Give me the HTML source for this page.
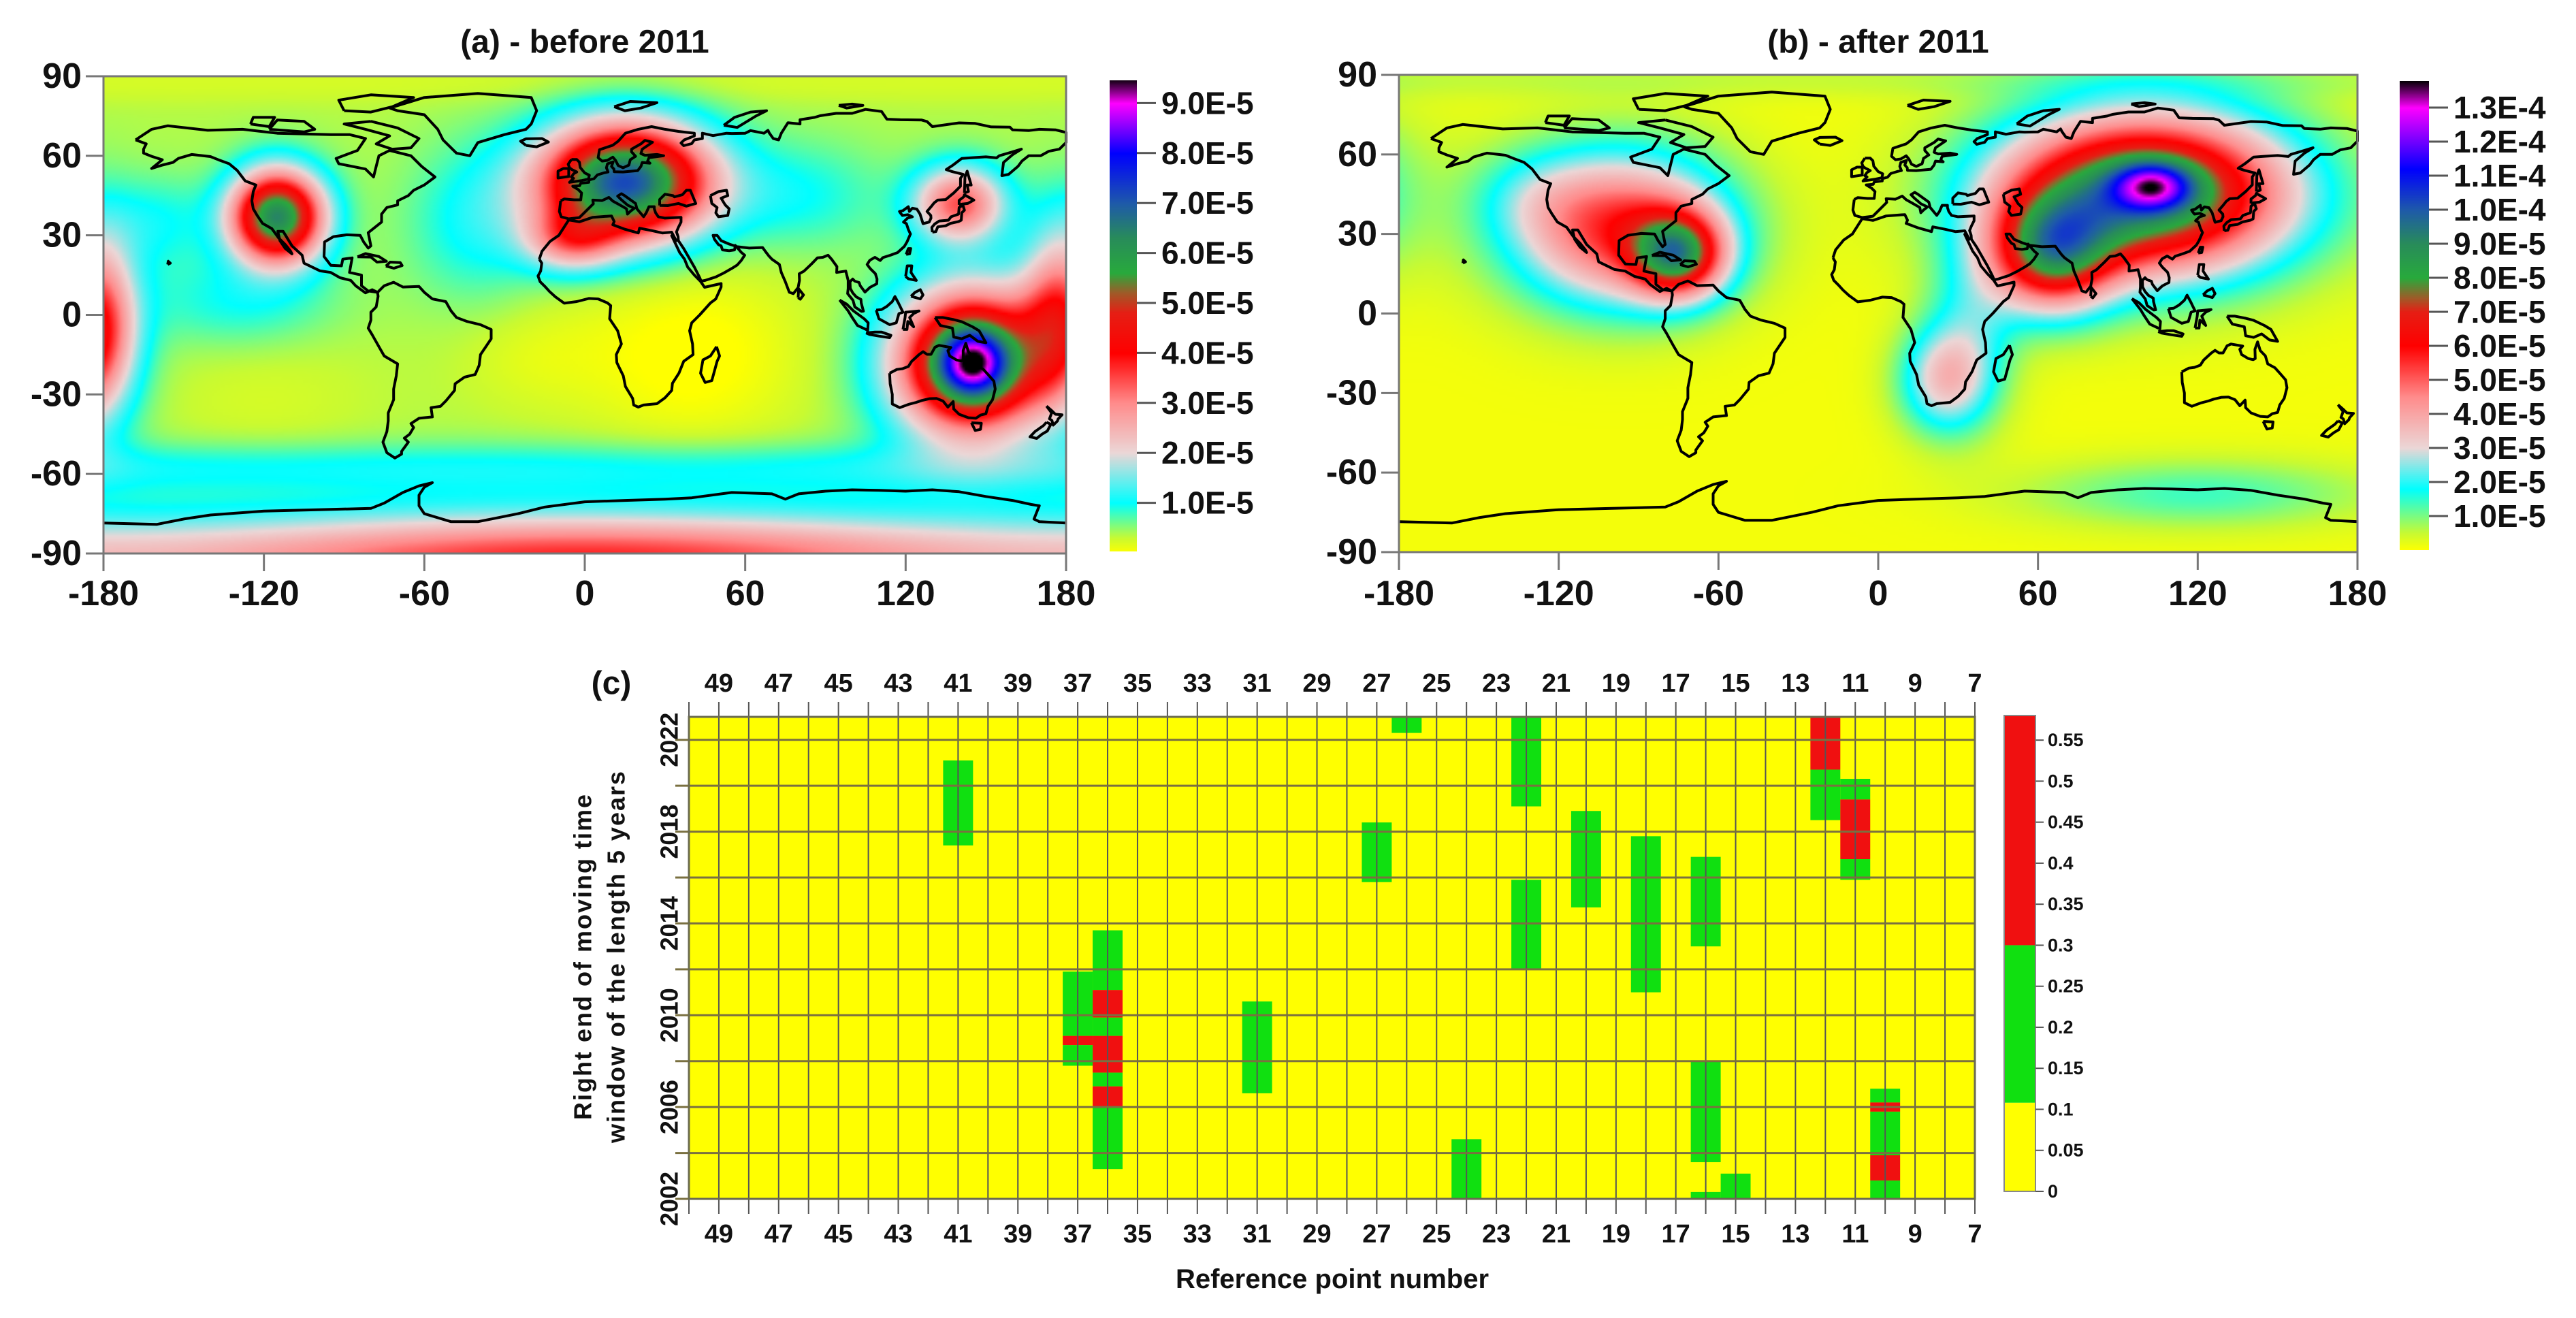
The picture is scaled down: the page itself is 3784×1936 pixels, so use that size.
<!DOCTYPE html>
<html><head><meta charset="utf-8"><style>
html,body{margin:0;padding:0;background:#fff;}
#root{position:relative;width:3784px;height:1936px;overflow:hidden;background:#fff;font-family:"Liberation Sans",Arial,sans-serif;}
canvas{position:absolute;}
svg{position:absolute;left:0;top:0;}
text{font-family:"Liberation Sans",Arial,sans-serif;font-weight:bold;fill:#111;}
</style></head><body>
<div id="root">
<canvas id="fa"></canvas>
<canvas id="fb"></canvas>
<canvas id="cba"></canvas>
<canvas id="cbb"></canvas>
<svg id="ov" width="3784" height="1936" viewBox="0 0 3784 1936"></svg>
</div>
<script>
// ---------- map field data (values in 1e-5) ----------
const aLon=[145,145,15,-115,140,-182,178,-5,-40,-130,-160,80,40,-120,-20];
const aLat=[-18,-18,50,37,42,0,-5,28,35,5,35,45,-15,-30,-15];
const aAmp=[6.0,3.5,6.8,6.0,3.0,2.4,0.6,2.0,0.7,0.6,0.6,0.6,-0.45,-0.15,-0.2];
const aSLon=[20,9,22,12,12,10,10,12,18,25,15,22,30,30,20];
const aSLat=[19,9,15,12,10,24,15,8,20,12,12,14,25,20,15];
const aBase=0.38;
const bLon=[100,103,65,-75,-97,25,35,-130];
const bLat=[45,48,22,22,32,-25,-5,45];
const bAmp=[9.5,4.3,6.0,6.0,5.5,3.0,1.4,0.8];
const bSLon=[38,10,16,12,28,12,12,16];
const bSLat=[21,6,15,11,20,14,22,12];
const bBase=0.1;
// colormaps
const cmAVals=[0,0.3,1.0,2.0,3.0,4.0,4.8,5.2,5.6,6.3,7.0,8.0,9.0,9.5];
const cmBVals=[0,0.5,1.8,3.0,4.5,6.0,7.0,7.4,8.0,9.0,10.0,11.2,13.0,13.8];
const cmCols=[[255,255,0],[200,250,50],[0,255,255],[235,215,215],[255,140,140],[255,0,0],[230,30,20],[160,90,40],[40,170,60],[40,140,90],[30,90,170],[0,0,255],[255,0,255],[0,0,0]];
const aMax=9.5, bMax=13.8;
const aTicks=[1,2,3,4,5,6,7,8,9];
const aTickLbl=["1.0E-5","2.0E-5","3.0E-5","4.0E-5","5.0E-5","6.0E-5","7.0E-5","8.0E-5","9.0E-5"];
const bTicks=[1,2,3,4,5,6,7,8,9,10,11,12,13];
const bTickLbl=["1.0E-5","2.0E-5","3.0E-5","4.0E-5","5.0E-5","6.0E-5","7.0E-5","8.0E-5","9.0E-5","1.0E-4","1.1E-4","1.2E-4","1.3E-4"];
const latTicks=[90,60,30,0,-30,-60,-90];
const lonTicks=[-180,-120,-60,0,60,120,180];
// ---------- panel c data ----------
const cCols=[41,26,22,22,12,12,11,11,11,27,20,18,16,16,16,15,36,36,36,36,36,36,36,37,37,37,31,24,10,10,10,10,10];
const cStart=[2017.4,2022.3,2019.1,2012.0,2020.7,2018.5,2019.4,2016.8,2015.9,2015.8,2014.7,2011.0,2013.0,2003.6,2002.0,2002.0,2011.1,2009.9,2009.1,2007.5,2006.9,2006.0,2003.3,2009.1,2008.7,2007.8,2006.6,2002.0,2006.2,2005.8,2003.9,2002.8,2002.0];
const cEnd=[2021.1,2023.0,2023.0,2015.9,2023.0,2020.7,2020.3,2019.4,2016.8,2018.4,2018.9,2017.8,2016.9,2008.0,2002.3,2003.1,2013.7,2011.1,2009.9,2009.1,2007.5,2006.9,2006.0,2011.9,2009.1,2008.7,2010.6,2004.6,2006.8,2006.2,2005.8,2003.9,2002.8];
const cVals=[0.2,0.2,0.2,0.2,0.45,0.2,0.2,0.45,0.2,0.2,0.2,0.2,0.2,0.2,0.2,0.2,0.2,0.45,0.2,0.45,0.2,0.45,0.2,0.2,0.45,0.2,0.2,0.2,0.2,0.45,0.2,0.45,0.2];
const cXTicks=[49,47,45,43,41,39,37,35,33,31,29,27,25,23,21,19,17,15,13,11,9,7];
const cYTicks=[2002,2006,2010,2014,2018,2022];
const cBarTicks=[0,0.05,0.1,0.15,0.2,0.25,0.3,0.35,0.4,0.45,0.5,0.55];
const cBarLbl=["0","0.05","0.1","0.15","0.2","0.25","0.3","0.35","0.4","0.45","0.5","0.55"];
const cLevels=[0.108,0.3];

// ---------- coastlines (lon,lat) ----------
const COAST=[
[[-168,66],[-162,70],[-156,71.3],[-141,69.6],[-128,70],[-115,68.5],[-95,68],[-88,68],[-82,66.5],[-85,62],[-93,59],[-92,57],[-82,55],[-79,52],[-78,56],[-77,60],[-73,62],[-65,60],[-61,56],[-56,52],[-60,49],[-64,47],[-66,45],[-70,43],[-70,41.5],[-74,40.5],[-76,38],[-76,35],[-81,31],[-80,26],[-81,25.2],[-82.7,27.5],[-84,30],[-89,30.2],[-94,29.5],[-97.3,27.5],[-97.5,22],[-95,18.7],[-91,18.5],[-90.5,21],[-87,21.5],[-88,16],[-83.5,15],[-83.5,11],[-81,9],[-77.5,8.5],[-79.5,9.5],[-82,8.3],[-85.7,11],[-87.5,13],[-91.5,14],[-95,16],[-99,16.6],[-105,19.5],[-105.7,22.5],[-109.5,26],[-112.8,31.5],[-114.8,31.5],[-114,28],[-112,25],[-109.5,23],[-110,24],[-112,26.5],[-114.5,29],[-117,32.5],[-120.5,34.5],[-122.5,37.5],[-124,40],[-124.5,43],[-124,46.5],[-123,49],[-127,50.5],[-130,54.5],[-133,57],[-137,58.5],[-140,59.7],[-147,60.5],[-152,59],[-154,57.5],[-158,56.5],[-162,55.2],[-158,58.5],[-162,59.8],[-165,61],[-165,62.5],[-164,64.5],[-168,66]],
[[-73,78],[-60,82],[-40,83.5],[-20,82],[-18,77],[-20,72],[-22,70],[-30,68],[-40,65],[-43,60],[-48,61],[-53,66],[-55,70],[-60,75.5],[-70,77],[-73,78]],
[[-80,73],[-70,70.5],[-62,66.5],[-65,63],[-72,62.5],[-78,64.5],[-73,67.5],[-82,70],[-90,72],[-80,73]],
[[-90,77],[-80,76.5],[-72,78.5],[-64,82],[-80,83],[-92,81],[-90,77]],
[[-118,70],[-105,69],[-101,70],[-105,73],[-115,73.5],[-118,70]],
[[-125,72],[-118,71],[-116,74.5],[-124,74.5],[-125,72]],
[[-77.5,8.5],[-75,11],[-71.5,12.3],[-68,10.5],[-62,10.7],[-60,8.5],[-57,6],[-52,5],[-50,1.5],[-48,-1],[-44,-2.5],[-39,-3.7],[-35,-5.5],[-35,-9],[-37,-12],[-39,-15],[-39.5,-19],[-41,-22.5],[-45,-23.5],[-48.5,-26],[-48.7,-28.5],[-52,-32.5],[-54,-34.5],[-57.5,-35],[-57,-38.5],[-62,-39],[-65,-41],[-64,-42.5],[-65.5,-45],[-67.5,-46.5],[-66,-48],[-68.5,-51.5],[-68.5,-52.5],[-71,-54],[-74,-52],[-75.5,-48],[-74,-44],[-73.5,-40],[-73.5,-37],[-71.5,-32],[-71.5,-28],[-70.5,-23],[-70,-18.5],[-75,-15.5],[-77,-12],[-79.5,-7.5],[-81,-5],[-80,-2],[-80,1],[-78,3],[-77.3,7],[-77.5,8.5]],
[[-17,21],[-16,24],[-13,27.7],[-9.7,30],[-6,35.8],[-2,35.1],[3,36.8],[10,37.3],[11,35.2],[10.5,34],[15,32.3],[20,30.9],[20.5,32.7],[25,31.8],[29,30.9],[32.5,31.2],[34.2,28],[32.5,29.9],[35.5,23.5],[37.3,21],[38.5,18],[41,15],[43.3,12.6],[44.8,10.4],[51,11.8],[51,10.5],[49,6],[47,4.5],[43,0],[40,-3],[39.2,-6],[40.3,-11],[40.5,-15],[37,-17.5],[35.2,-22],[32.8,-25.8],[32.5,-28.5],[30,-31.3],[27,-33.5],[22,-34],[20,-34.8],[18.3,-34],[17.9,-31.5],[15.2,-27],[14.4,-23],[12,-18],[11.8,-15],[13.7,-11],[12.3,-6],[9.3,-1.5],[9.7,3.5],[8.5,4.5],[5,6],[1.5,6.2],[-3,5],[-7.7,4.4],[-11,6.8],[-13.2,8.8],[-15,10.8],[-16.7,12.5],[-17.5,14.7],[-16.5,16.5],[-16.1,19.5],[-17,21]],
[[49.3,-12],[50.4,-15.5],[49.5,-17.5],[47.5,-24.8],[45,-25.5],[43.3,-22],[44.2,-17],[47,-15.5],[49.3,-12]],
[[-9,43],[-9.5,39],[-8.8,37],[-6,36.2],[-2,36.7],[0,38.7],[3.2,41.9],[3,43.3],[6.5,43.1],[9,44.3],[10.5,42.9],[12.5,41.8],[15.6,40],[16,38],[17,39],[18.5,40.2],[16,41.4],[13.5,43.6],[12.3,44.8],[13.7,45.7],[15,44.9],[19,42],[19.5,40],[22,37],[23,38.5],[24,40.8],[26,40.8],[26,40],[26.5,38.5],[27.5,37],[30,36.5],[36,36.8],[36,35],[35,33],[34.3,31.3],[34.9,29.5],[35,28],[37,25],[39,21.5],[41,18],[43,14],[43.5,12.7],[45,13],[49,14.3],[52,15.8],[55,17.5],[57,18.8],[58.5,20.5],[59.8,22.5],[58.5,23.6],[56.3,26.2],[56,24.5],[54,24.2],[51.5,24.5],[51,26],[50,26.5],[48.5,28.5],[48,30],[49.5,30],[51,28],[54,26.7],[57,25.7],[61.5,25.2],[66.5,25.4],[67.5,24],[68.8,22.3],[70,21],[72.8,19],[73.5,16],[75,12.5],[76.5,8.5],[78,8],[79.8,10.3],[80.3,13],[80.2,15.5],[82,16.5],[84.9,19.3],[87,21.5],[89,21.7],[91,22.5],[92.3,21],[94.3,18.2],[94.2,16],[97.6,16.5],[98.5,13],[98.5,10],[98.3,8],[100.3,5.5],[101,3],[103.5,1.3],[104.2,1.4],[103.4,4.5],[103.3,5.8],[101.5,6.8],[100.2,8.3],[99.3,10],[99.2,12.5],[100.2,13.5],[101,12.7],[102.6,12.2],[103,11],[104.8,8.6],[106.7,10.4],[109.2,11.7],[109.3,13.5],[108.7,15.5],[106.7,17.5],[105.6,19],[106.6,20.6],[108.5,21.7],[110.5,20.5],[111.5,21.6],[114.3,22.5],[117,23.5],[119.5,25.8],[120.5,27.5],[121.8,30.5],[121,32.2],[120.3,34.4],[119.2,35],[120.7,36.5],[122.5,37],[120.8,37.8],[118.8,37.5],[118,38.5],[117.7,39],[119,39.3],[121,40.8],[121.4,39],[122.5,40.2],[124.2,39.9],[125.4,38],[126.5,34.4],[128.8,35],[129.5,36.5],[129.4,37.5],[128,39],[129.7,41],[130.7,42.3],[132,43.3],[135,43.5],[138,46],[140.5,48.5],[140.5,51.5],[141.5,53],[137.5,54],[135.2,54.8],[137.7,56.5],[141,59],[145,59.3],[150,59.6],[154,59.2],[155,60],[160,61.5],[163.3,62.5],[160.1,60.5],[156.6,57.5],[156,52.5],[158.5,53],[162,56],[163.5,58],[166,60],[170.5,60],[173.5,61.7],[177.5,62.5],[179.5,64.5],[180,65],[180,68.8],[176,69.8],[170,70],[166,69.5],[160,69.8],[159,70.8],[152,70.9],[146,72.2],[140,72.4],[130,71],[128,72.9],[126,73.5],[118,73.6],[113,73.8],[111,76.7],[105,77.5],[100,76],[94,76],[88,75.1],[86,74.5],[80.5,73.6],[80.5,72],[76,72.5],[73.5,68.5],[72.5,66],[70.5,66.5],[69,68.6],[68.5,69.6],[67,68.5],[62,69.5],[60,68.5],[55,68.4],[53,68.5],[48,67.6],[44,68.5],[44,66.5],[41,66],[40,64.6],[37,63.8],[36,64.8],[37.2,66],[41,67.5],[41,68.5],[35,69.2],[30,70],[25,71],[20,70],[15.2,68.5],[12.5,65.5],[10.5,64],[5.5,62.3],[5,59.3],[6.5,58],[8.5,58.3],[10.5,59.5],[11.5,58.3],[12.5,56.3],[14.3,55.5],[16.5,56.5],[17,58.5],[19,59.8],[17.5,61.5],[17.5,62.5],[21,64.5],[22.5,65.8],[25.3,65.1],[21.5,62.5],[21,60.8],[22.5,60.2],[27,60.5],[29.5,60],[24,59.3],[23.5,58],[24.4,57.2],[21.5,57.5],[21,56],[19.8,54.4],[14.3,53.9],[11,54],[10.9,55],[10,56],[10.6,57.7],[8.5,57],[8.1,55.5],[8.7,53.9],[7,53.5],[4.7,52.8],[3.5,51.4],[1.6,50.9],[1.5,50],[-1.5,49.6],[-1.9,48.7],[-4.5,48.5],[-2.5,47.3],[-1.2,46],[-1.5,43.4],[-4,43.4],[-7.7,43.7],[-9,43]],
[[-5,58.6],[-3,58.6],[-2,57.6],[-1.7,55.6],[0,53.5],[1.7,52.7],[1.4,51.2],[-1,50.7],[-5.7,50],[-4.2,51.5],[-5,52],[-4.2,53.2],[-3,53.9],[-4.8,54.8],[-5.7,55.5],[-6.2,56.8],[-5,58.6]],
[[-6,55.2],[-6,52.2],[-10,51.6],[-10,54.2],[-8,55.2],[-6,55.2]],
[[-22,63.9],[-24,65.5],[-22,66.4],[-16,66.5],[-13.6,65.2],[-18,63.4],[-22,63.9]],
[[130,31.2],[131.3,31.4],[132,33.2],[135,33.6],[136.8,34.5],[139.8,35.2],[140.8,35.7],[141,38.5],[142,39.5],[141.4,41.4],[140,40.5],[139.8,38],[137,37],[136,35.7],[132.6,35.4],[130.9,34.3],[129.8,33],[130,31.2]],
[[140,41.5],[141.2,41.8],[143.2,42],[145.5,43.3],[142,45.3],[141.7,44.5],[140,43.2],[140,41.5]],
[[142,46],[143.5,46.5],[143,49],[144.5,49],[143,54.2],[142.2,52],[142,46]],
[[120.2,22.8],[121.5,23],[121.9,25],[121,25],[120.2,22.8]],
[[79.8,6.5],[80.6,5.9],[81.8,7.5],[80,9.8],[79.8,6.5]],
[[120,14.5],[120.6,18.5],[122.3,18.5],[122,16],[124,13],[121,13.6],[120,14.5]],
[[122,7],[125.5,6],[126.5,7.5],[125.5,9.5],[123.5,8.5],[122,7]],
[[109,1.8],[110,-1.5],[114,-3.7],[116.5,-3],[117.5,0.5],[119,1],[117.3,4.5],[116,6.9],[115,5],[113,3.2],[111,2],[109,1.8]],
[[95.3,5.6],[98,4],[100.5,1.5],[104.5,-1.5],[106,-3],[105.8,-5.8],[102,-4],[100,-1],[98.5,1.5],[95.3,5.6]],
[[105.2,-6.8],[108.5,-6.5],[111,-6.5],[114.5,-7.7],[114,-8.6],[110,-8],[106.5,-7.4],[105.2,-6.8]],
[[119,-5.5],[120.5,-5.5],[120.8,-2.5],[123,-4.5],[121.5,-1],[123,0.5],[125,1.5],[120,1],[119.8,-1],[119,-5.5]],
[[131,-1],[134,-1],[138,-1.8],[141,-2.6],[145,-4.5],[147.5,-6],[150,-10.5],[147,-10],[144,-7.7],[141,-9],[138,-8.4],[137.5,-5],[133,-4],[132,-2.5],[131,-1]],
[[114,-22],[114.2,-26],[115,-30],[115,-33.6],[117.8,-35],[121,-33.8],[124,-33],[126,-32.3],[129,-31.6],[131.5,-31.5],[134,-32.5],[135.8,-34.8],[137.8,-32.7],[138,-35.5],[140,-37.5],[143.5,-38.8],[146.3,-39],[148,-37.8],[150,-37.3],[150.8,-34.5],[152.5,-32],[153.5,-28],[153,-25],[150.8,-22.5],[149,-20.5],[146.3,-19],[145.4,-16],[143.5,-14],[142.5,-10.7],[141.5,-13.5],[141.6,-17],[140.8,-17.4],[139,-17],[136.5,-15.5],[135.8,-13.5],[136.9,-12.3],[132.5,-11.5],[131,-12.2],[129.5,-14.9],[128,-14.9],[126.5,-13.9],[125,-15],[122.2,-17.6],[121,-19.5],[118.8,-20.3],[116.7,-20.6],[114,-22]],
[[144.6,-40.7],[148.3,-40.9],[148,-43.2],[146,-43.6],[144.6,-40.7]],
[[172.7,-34.4],[174.5,-36],[176,-37.5],[178.5,-37.7],[177,-39.3],[176.8,-40],[175.2,-41.6],[174.7,-39.8],[173.8,-39.2],[174.6,-37],[172.7,-34.4]],
[[172.7,-40.5],[174.3,-41.3],[173,-43.8],[171,-45],[169,-46.6],[166.5,-46],[168.4,-44],[171.5,-41.8],[172.7,-40.5]],
[[-85,21.9],[-82,23.1],[-77,22],[-74.2,20.2],[-77.7,19.9],[-80,21.8],[-85,21.9]],
[[-74.4,18.4],[-72.8,19.9],[-69,19.7],[-68.3,18.6],[-71.4,17.6],[-74.4,18.4]],
[[52,71.5],[56,74.5],[62,76.5],[68,77],[64,75],[57,70.7],[52,71.5]],
[[11,78.5],[17,80.5],[27,80],[21,78],[15,77],[11,78.5]],
[[95,79],[100,79.5],[104,79],[98,78],[95,79]],
[[47,45],[50,46.5],[53,47],[53.5,45],[51,44],[52.5,41.5],[54,40],[53.5,37.5],[50,37],[49,38.5],[49.5,40.5],[47.5,42],[47,45]],
[[28,41.3],[28,43.5],[30,45.5],[33,45],[33.5,44.5],[36.5,45.3],[38,47],[39.5,47],[41.5,42],[38,41],[35,42],[31,41.2],[28,41.3]],
[[-156,19],[-155,19.5],[-155.8,20.2],[-156,19]],
[[-180,-78.5],[-160,-79],[-150,-77],[-140,-75.5],[-120,-74],[-100,-73.5],[-80,-73],[-75,-71],[-68,-67],[-62,-64.5],[-57,-63.3],[-60,-65],[-62,-68],[-62,-72],[-60,-75],[-50,-78],[-40,-78],[-35,-77],[-25,-75],[-15,-72.5],[0,-70.5],[15,-70],[30,-69.5],[40,-69],[55,-67],[70,-67.5],[75,-69.5],[80,-67.5],[90,-66.5],[100,-66],[110,-66.2],[120,-66.5],[130,-66],[140,-66.7],[150,-68.5],[160,-70],[167,-71.5],[170,-72],[168,-77],[170,-78],[180,-78.5]]
];

const MAPS=[
 {id:'a',x0:152,y0:112,w:1414,h:701,vals:cmAVals,max:aMax,
  cb:{x:1630,y:118,w:40,h:692,zero:812,step:73.4},ticks:aTicks,tl:aTickLbl,title:'(a) - before 2011',cbid:'cba',fid:'fa',ylab:120},
 {id:'b',x0:2055,y0:110,w:1408,h:701,vals:cmBVals,max:bMax,
  cb:{x:3525,y:119,w:43,h:689,zero:808,step:50},ticks:bTicks,tl:bTickLbl,title:'(b) - after 2011',cbid:'cbb',fid:'fb',ylab:2023}
];

function cmap(v,vals){
  if(v<=vals[0]) return cmCols[0];
  for(let i=1;i<vals.length;i++){
    if(v<=vals[i]){const t=(v-vals[i-1])/(vals[i]-vals[i-1]);const a=cmCols[i-1],b=cmCols[i];
      return [a[0]+(b[0]-a[0])*t,a[1]+(b[1]-a[1])*t,a[2]+(b[2]-a[2])*t];}
  }
  return cmCols[cmCols.length-1];
}
function fieldA(lon,lat){
  let v=aBase;
  for(let i=0;i<aLon.length;i++){let d=((lon-aLon[i]+540)%360)-180;const dl=lat-aLat[i];
    v+=aAmp[i]*Math.exp(-0.5*((d/aSLon[i])**2+(dl/aSLat[i])**2));}
  v+=0.65*Math.exp(-0.5*((lat+58)/7)**2);
  v+=3.4*(0.8+0.2*Math.cos(lon*Math.PI/180))*Math.exp(-0.5*((lat+92)/12)**2);
  v-=0.15*Math.exp(-0.5*((lat-88)/6)**2);
  return v;
}
function fieldB(lon,lat){
  let v=bBase;
  for(let i=0;i<bLon.length;i++){let d=((lon-bLon[i]+540)%360)-180;const dl=lat-bLat[i];
    v+=bAmp[i]*Math.exp(-0.5*((d/bSLon[i])**2+(dl/bSLat[i])**2));}
  v+=1.3*Math.exp(-0.5*((lat+68)/9)**2)*Math.exp(-0.5*((lon-120)/45)**2);
  v+=0.4*Math.exp(-0.5*((lat-88)/5)**2);
  return v;
}
const NS='http://www.w3.org/2000/svg';
const ov=document.getElementById('ov');
function el(tag,attrs,parent){const e=document.createElementNS(NS,tag);for(const k in attrs)e.setAttribute(k,attrs[k]);(parent||ov).appendChild(e);return e;}
function txt(s,x,y,size,anchor,parent,extra){const t=el('text',Object.assign({x:x,y:y,'font-size':size,'text-anchor':anchor||'middle','dominant-baseline':'central'},extra||{}),parent);t.textContent=s;return t;}

MAPS.forEach((m,mi)=>{
  const fn=mi===0?fieldA:fieldB;
  const c=document.getElementById(m.fid);
  const W=360,H=180;c.width=W;c.height=H;
  c.style.left=m.x0+'px';c.style.top=m.y0+'px';c.style.width=m.w+'px';c.style.height=m.h+'px';
  const ctx=c.getContext('2d');const img=ctx.createImageData(W,H);
  for(let j=0;j<H;j++){const lat=90-(j+0.5)*180/H;
    for(let i=0;i<W;i++){const lon=-180+(i+0.5)*360/W;const col=cmap(fn(lon,lat),m.vals);const p=(j*W+i)*4;
      img.data[p]=col[0];img.data[p+1]=col[1];img.data[p+2]=col[2];img.data[p+3]=255;}}
  ctx.putImageData(img,0,0);
  const cb=document.getElementById(m.cbid);cb.width=1;cb.height=m.cb.h;
  cb.style.left=m.cb.x+'px';cb.style.top=m.cb.y+'px';cb.style.width=m.cb.w+'px';cb.style.height=m.cb.h+'px';
  const cx=cb.getContext('2d');
  for(let j=0;j<m.cb.h;j++){const yy=m.cb.y+j;const v=(m.cb.zero-yy)/m.cb.step;const col=cmap(v,m.vals);
    cx.fillStyle='rgb('+col.map(Math.round).join(',')+')';cx.fillRect(0,j,1,1);}
  const g=el('g',{});
  
  
  const px=lon=>m.x0+(lon+180)/360*m.w, py=lat=>m.y0+(90-lat)/180*m.h;
  const cg=el('g',{fill:'none',stroke:'#000','stroke-width':4,'stroke-linejoin':'round'},g);
  
  
  COAST.forEach(poly=>{el('polyline',{points:poly.map(p=>px(p[0]).toFixed(1)+','+py(p[1]).toFixed(1)).join(' ')},cg);});
  const fr=el('rect',{x:m.x0,y:m.y0,width:m.w,height:m.h,fill:'none',stroke:'#777','stroke-width':3},g);
  
  
  const t=txt(m.title,m.x0+m.w/2,62,48,'middle',g);
  
  
  latTicks.forEach(la=>{el('line',{x1:m.x0-26,x2:m.x0,y1:py(la),y2:py(la),stroke:'#777','stroke-width':3},g);
    const l=txt(String(la),m.ylab,py(la),52,'end',g);
    
    });
  lonTicks.forEach(lo=>{el('line',{x1:px(lo),x2:px(lo),y1:m.y0+m.h,y2:m.y0+m.h+26,stroke:'#777','stroke-width':3},g);
    const l=txt(String(lo),px(lo),872,52,'middle',g);
    
    });
  const r=m.cb.x+m.cb.w;
  m.ticks.forEach((v,i)=>{const y=m.cb.zero-v*m.cb.step;
    el('line',{x1:r,x2:r+28,y1:y,y2:y,stroke:'#555','stroke-width':3},g);
    const l=txt(m.tl[i],r+36,y,46,'start',g);
    
    });
});

// ---------- panel c ----------
const CX0=1012,CX1=2901,CY0=1053,CY1=1761;
const xK=k=>CX0+(50-k)*(CX1-CX0)/43;
const yY=yr=>CY1-(yr-2002)*(CY1-CY0)/21;
const cColor=v=>v<cLevels[0]?'#ffff00':(v<cLevels[1]?'#10e010':'#f01010');
const pc=el('g',{});


el('rect',{x:CX0,y:CY0,width:CX1-CX0,height:CY1-CY0,fill:'#ffff00'},pc);
for(let i=0;i<cCols.length;i++){
  const r=el('rect',{x:xK(cCols[i]+0.5),y:yY(cEnd[i]),width:xK(cCols[i]-0.5)-xK(cCols[i]+0.5),height:yY(cStart[i])-yY(cEnd[i]),fill:cColor(cVals[i])},pc);
  
  
}
for(let k=50;k>=7;k--){el('line',{x1:xK(k),x2:xK(k),y1:CY0-22,y2:CY1+22,stroke:'#555','stroke-width':2},pc);}
for(let yr=2002;yr<=2022;yr+=2){el('line',{x1:CX0-20,x2:CX1,y1:yY(yr),y2:yY(yr),stroke:'#7a7040','stroke-width':3},pc);}
el('rect',{x:CX0,y:CY0,width:CX1-CX0,height:CY1-CY0,fill:'none',stroke:'#6a6a50','stroke-width':3},pc);
cXTicks.forEach(k=>{
  const a=txt(String(k),xK(k),1004,38,'middle',pc);
  
  
  const b=txt(String(k),xK(k),1813,38,'middle',pc);
  
  
});
cYTicks.forEach(yr=>{
  const t=txt(String(yr),983,yY(yr),36,'middle',pc,{transform:'rotate(-90 983 '+yY(yr)+')'});
  
  
});
const yt1=txt('Right end of moving time',856,1405,36,'middle',pc,{transform:'rotate(-90 856 1405)','letter-spacing':'2'});


const yt2=txt('window of the length 5 years',905,1405,36,'middle',pc,{transform:'rotate(-90 905 1405)','letter-spacing':'2'});


const xt=txt('Reference point number',1957,1879,40,'middle',pc);


const pl=txt('(c)',898,1004,48,'middle',pc);


const CBX=2944,CBW=46,CBT=1051,CBB=1750,CBMAX=0.58;
const cbY=v=>CBB-v/CBMAX*(CBB-CBT);
const cbg=el('g',{});


el('rect',{x:CBX,y:cbY(CBMAX),width:CBW,height:cbY(cLevels[1])-cbY(CBMAX),fill:'#f01010'},cbg);
el('rect',{x:CBX,y:cbY(cLevels[1]),width:CBW,height:cbY(cLevels[0])-cbY(cLevels[1]),fill:'#10e010'},cbg);
el('rect',{x:CBX,y:cbY(cLevels[0]),width:CBW,height:CBB-cbY(cLevels[0]),fill:'#ffff00'},cbg);
el('rect',{x:CBX,y:CBT,width:CBW,height:CBB-CBT,fill:'none',stroke:'#888','stroke-width':2},cbg);
cBarTicks.forEach((v,i)=>{
  el('line',{x1:CBX+CBW,x2:CBX+CBW+12,y1:cbY(v),y2:cbY(v),stroke:'#555','stroke-width':2},cbg);
  const l=txt(cBarLbl[i],CBX+CBW+18,cbY(v),27,'start',cbg);
  
  
});
</script>
</body></html>
